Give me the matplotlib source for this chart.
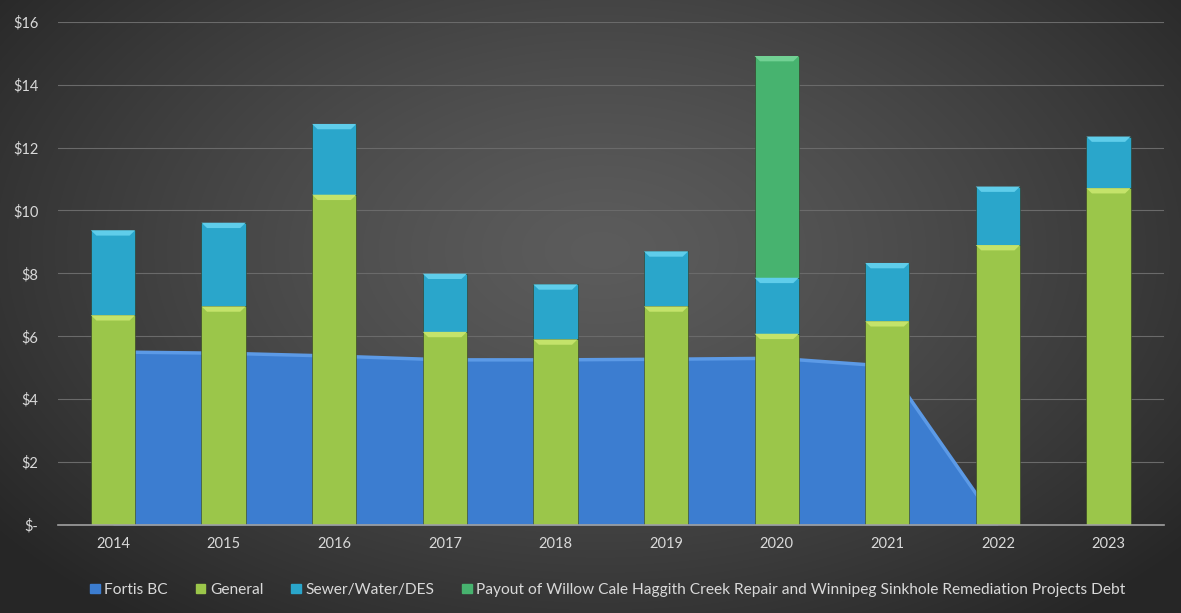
import numpy as np
import matplotlib.pyplot as plt
from matplotlib.patches import Polygon, Patch

years = ["2014", "2015", "2016", "2017", "2018", "2019", "2020", "2021", "2022", "2023"]
fortis = [5.5, 5.46, 5.37, 5.25, 5.25, 5.27, 5.3, 5.05, 0.0, 0.0]
general = [6.67, 6.95, 10.5, 6.14, 5.9, 6.95, 6.08, 6.48, 8.9, 10.71]
sewer = [2.70, 2.66, 2.25, 1.85, 1.75, 1.75, 1.78, 1.85, 1.86, 1.64]
payout = [0, 0, 0, 0, 0, 0, 7.05, 0, 0, 0]

labels = ["Fortis BC", "General", "Sewer/Water/DES",
          "Payout of Willow Cale Haggith Creek Repair and Winnipeg Sinkhole Remediation Projects Debt"]
yticks = [0, 2, 4, 6, 8, 10, 12, 14, 16]
ytick_labels = ["$-", "$2", "$4", "$6", "$8", "$10", "$12", "$14", "$16"]

c_fortis = "#3c7dd0"
c_general = "#9bc64a"
c_sewer = "#2aa6cb"
c_payout = "#47b36f"
txt = "#d9d9d9"

plt.rcParams['font.family'] = ['Lato', 'DejaVu Sans']

fig = plt.figure(figsize=(11.81, 6.13), dpi=100)

# radial gradient background
bg = fig.add_axes([0, 0, 1, 1], zorder=-10)
yy, xx = np.mgrid[0:613, 0:1181]
r = np.sqrt(((xx - 600) / 760.0) ** 2 + ((yy - 250) / 470.0) ** 2)
r = np.clip(r, 0, 1)
dark, light = 0.15, 0.36
val = light - (light - dark) * r ** 1.3
bg.imshow(np.dstack([val, val, val]), aspect='auto', extent=[0, 1, 0, 1])
bg.axis('off')

ax = fig.add_axes([57.7 / 1181, 1 - 525 / 613, (1163.8 - 57.7) / 1181, (525 - 21.7) / 613])
ax.set_facecolor('none')
x = np.arange(len(years))
w = 0.4

# Fortis area behind the bars
ax.fill_between(x, fortis, 0, color=c_fortis, zorder=1, lw=0)
last = max(i for i in range(len(fortis)) if fortis[i] > 0) + 1
ax.plot(x[:last + 1], fortis[:last + 1], color="#5c9ae6", lw=2.5, zorder=1.5,
        solid_capstyle='butt')


def bevel(xc, bottom, height, color, hi):
    if height <= 0:
        return
    ax.bar(xc, height, w, bottom=bottom, color=color, edgecolor='#2f3a22', lw=0.4, zorder=3)
    d = min(0.17, height / 3)
    top = bottom + height
    poly = Polygon([[xc - w / 2, top], [xc + w / 2, top],
                    [xc + w / 2 - 0.05, top - d], [xc - w / 2 + 0.05, top - d]],
                   closed=True, color=hi, lw=0, zorder=4)
    ax.add_patch(poly)


for i in range(len(years)):
    bevel(x[i], 0, general[i], c_general, "#c4e36a")
    bevel(x[i], general[i], sewer[i], c_sewer, "#5fcdea")
    bevel(x[i], general[i] + sewer[i], payout[i], c_payout, "#72d194")

ax.set_xlim(-0.5, len(years) - 0.5)
ax.set_ylim(0, 16)
ax.set_yticks(yticks)
ax.set_yticklabels(ytick_labels)
ax.set_xticks(x)
ax.set_xticklabels(years)
ax.tick_params(axis='both', length=0, colors=txt, labelsize=10.5)
ax.tick_params(axis='y', pad=14)
ax.tick_params(axis='x', pad=9)
ax.grid(axis='y', color='#6a6a6a', lw=0.8, zorder=0)
ax.set_axisbelow(True)
for s in ['top', 'right', 'left']:
    ax.spines[s].set_visible(False)
ax.spines['bottom'].set_color('#a0a0a0')
ax.spines['bottom'].set_linewidth(1.2)
ax.spines['bottom'].set_zorder(5)

handles = [Patch(color=c_fortis), Patch(color=c_general), Patch(color=c_sewer), Patch(color=c_payout)]
fig.legend(handles, labels, loc='center', bbox_to_anchor=(608 / 1181, 1 - 590 / 613), ncol=4,
           frameon=False, fontsize=11.2, labelcolor=txt, handlelength=0.6, handleheight=0.6,
           handletextpad=0.3, columnspacing=1.8)

fig.savefig("out.png", dpi=100)
